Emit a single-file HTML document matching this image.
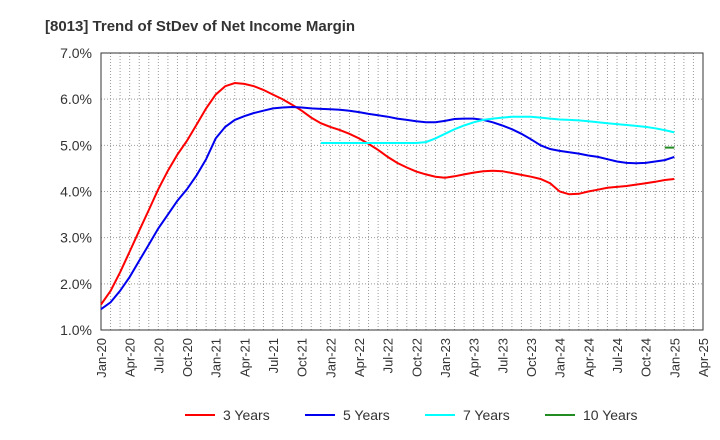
<!DOCTYPE html>
<html><head><meta charset="utf-8"><style>
body{margin:0;background:#fff;font-family:"Liberation Sans",sans-serif}
svg{display:block}
</style></head><body>
<svg width="720" height="440" id="c">
<text x="45" y="31" font-size="15" font-weight="bold" fill="#333">[8013]  Trend of StDev of Net Income Margin</text>
<g id="grid"></g>
<g id="axes"></g>
<g id="series"></g>
<g id="legend"></g>
</svg>
<script>
const xLabels=["Jan-20","Apr-20","Jul-20","Oct-20","Jan-21","Apr-21","Jul-21","Oct-21","Jan-22","Apr-22","Jul-22","Oct-22","Jan-23","Apr-23","Jul-23","Oct-23","Jan-24","Apr-24","Jul-24","Oct-24","Jan-25","Apr-25"];
const yTicks=[1,2,3,4,5,6,7];
const y3=[1.55,1.85,2.25,2.7,3.15,3.6,4.05,4.45,4.8,5.1,5.45,5.8,6.1,6.28,6.35,6.33,6.28,6.2,6.1,6.0,5.88,5.75,5.6,5.48,5.4,5.33,5.25,5.15,5.03,4.9,4.75,4.62,4.52,4.43,4.37,4.32,4.3,4.33,4.37,4.41,4.44,4.45,4.44,4.4,4.36,4.32,4.27,4.18,4.0,3.94,3.95,4.0,4.04,4.08,4.1,4.12,4.15,4.18,4.21,4.25,4.27];
const y5=[1.45,1.6,1.85,2.15,2.5,2.85,3.2,3.5,3.8,4.05,4.35,4.7,5.15,5.4,5.55,5.63,5.7,5.75,5.8,5.82,5.83,5.82,5.8,5.79,5.78,5.77,5.75,5.72,5.68,5.65,5.62,5.58,5.55,5.52,5.5,5.5,5.53,5.57,5.58,5.58,5.55,5.5,5.43,5.35,5.25,5.13,5.0,4.92,4.88,4.85,4.82,4.78,4.75,4.7,4.65,4.62,4.61,4.62,4.65,4.68,4.75];
const start7=23;
const y7=[5.05,5.05,5.05,5.05,5.05,5.05,5.05,5.05,5.05,5.05,5.05,5.07,5.15,5.25,5.35,5.43,5.5,5.55,5.58,5.6,5.62,5.62,5.62,5.6,5.58,5.56,5.55,5.54,5.52,5.5,5.48,5.46,5.44,5.42,5.4,5.37,5.33,5.28];
const start10=59;
const y10=[4.95,4.95];
const L=101,R=703,T=53,B=330,NM=63;
const X=i=>L+i*(R-L)/NM, Y=v=>B-(v-1)*(B-T)/6;
const ns="http://www.w3.org/2000/svg";
function mk(t,a,p){const e=document.createElementNS(ns,t);for(const k in a)e.setAttribute(k,a[k]);p.appendChild(e);return e;}
const g=document.getElementById('grid'),ax=document.getElementById('axes'),s=document.getElementById('series'),lg=document.getElementById('legend');
for(let i=1;i<NM;i++){const l=mk('line',{x1:X(i),x2:X(i),y1:T,y2:B,stroke:'#999','stroke-dasharray':'1,2','stroke-width':1},g);}
yTicks.forEach(v=>{const l=mk('line',{x1:L,x2:R,y1:Y(v),y2:Y(v),stroke:'#999','stroke-dasharray':'1,2'},g);
const t=mk('text',{x:L-9,y:Y(v)+5,'text-anchor':'end','font-size':14,fill:'#333'},ax);t.textContent=v.toFixed(1)+'%';});
const f=mk('rect',{x:L,y:T,width:R-L,height:B-T,fill:'none',stroke:'#333'},ax);
xLabels.forEach((lb,k)=>{const x=X(k*3);const t=mk('text',{transform:`translate(${x+5},${B+8}) rotate(-90)`,'text-anchor':'end','font-size':13,fill:'#333'},ax);t.textContent=lb;});
function line(arr,st,col,nm){const p=arr.map((v,i)=>X(i+st).toFixed(1)+','+Y(v).toFixed(1)).join(' ');const e=mk('polyline',{points:p,fill:'none',stroke:col,'stroke-width':2},s);}
line(y3,0,'#ff0000','line-3-years');line(y5,0,'#0000ee','line-5-years');line(y7,start7,'#00ffff','line-7-years');line(y10,start10,'#228b22','line-10-years');
[["3 Years","#ff0000",185],["5 Years","#0000ee",305],["7 Years","#00ffff",425],["10 Years","#228b22",545]].forEach(([n,c,x])=>{const gg=mk('g',{},lg);mk('line',{x1:x,x2:x+30,y1:415,y2:415,stroke:c,'stroke-width':2},gg);const t=mk('text',{x:x+38,y:420,'font-size':14,fill:'#333'},gg);t.textContent=n;});
</script>
</body></html>
